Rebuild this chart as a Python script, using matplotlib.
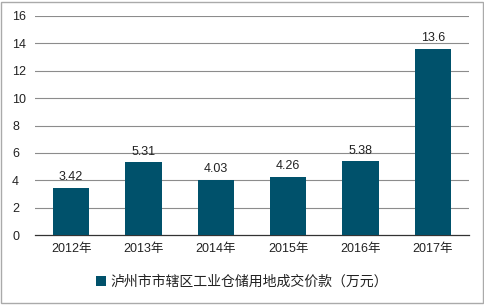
import matplotlib
matplotlib.use("Agg")
import matplotlib.pyplot as plt
from matplotlib.patches import Rectangle

plt.rcParams['font.family'] = ['Liberation Sans', 'Noto Sans CJK SC', 'DejaVu Sans']

categories = ['2012年', '2013年', '2014年', '2015年', '2016年', '2017年']
values = [3.42, 5.31, 4.03, 4.26, 5.38, 13.6]
labels = ['3.42', '5.31', '4.03', '4.26', '5.38', '13.6']
series_name = '泸州市市辖区工业仓储用地成交价款（万元）'
yticks = [0, 2, 4, 6, 8, 10, 12, 14, 16]

color = '#00516B'
fig = plt.figure(figsize=(4.85, 3.06), dpi=100)
ax = fig.add_axes([35/485, 1-235/306, 434/485, 219/306])
x = list(range(len(categories)))
bars = ax.bar(x, values, width=0.5, color=color, zorder=3, label=series_name)
for xi, v, l in zip(x, values, labels):
    ax.text(xi, v + 0.35, l, ha='center', va='bottom', fontsize=9, color='#222222', zorder=4)
ax.set_xlim(-0.5, len(categories) - 0.5)
ax.set_ylim(0, 16)
ax.set_yticks(yticks)
ax.set_yticklabels([str(t) for t in yticks], fontsize=9, color='#222222')
ax.set_xticks(x)
ax.set_xticklabels(categories, fontsize=9, color='#222222')
ax.tick_params(axis='both', length=0, pad=6)
ax.tick_params(axis='y', pad=16.5)
for yv in yticks[1:]:
    ax.axhline(yv, color='#8c8c8c', linewidth=0.8, zorder=1)
for s in ['top', 'right', 'left']:
    ax.spines[s].set_visible(False)
ax.spines['bottom'].set_color('#333333')
ax.spines['bottom'].set_linewidth(0.9)
for lab in ax.get_yticklabels():
    lab.set_horizontalalignment('left')

leg = fig.legend(handles=[bars], labels=[series_name], loc='center',
                 bbox_to_anchor=(242/485, 1-282/306), frameon=False,
                 fontsize=10, handlelength=0.7, handleheight=0.7, handletextpad=0.3)
for t in leg.get_texts():
    t.set_color('#222222')

fig.patches.append(Rectangle((1/485, 3/306), 482/485, 301/306, transform=fig.transFigure,
                             fill=False, edgecolor='#aaaaaa', linewidth=1))
fig.savefig('out.png', dpi=100)
